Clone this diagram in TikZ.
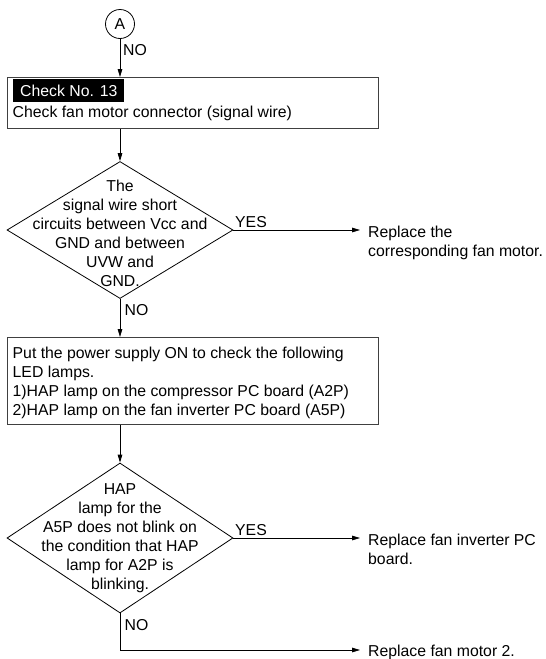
\documentclass[tikz,border=0pt]{standalone}
\usepackage{fontspec}
\setmainfont{Liberation Sans}
\usetikzlibrary{shapes.geometric,arrows.meta}
\begin{document}
\begin{tikzpicture}[x=1pt,y=-1pt,
  every node/.style={font=\fontsize{15.8}{19}\selectfont},
  conn/.style={line width=0.8pt,draw=black},
  arr/.style={conn,-{Triangle[length=8pt,width=4.6pt]}},
  box/.style={draw=black!75,line width=1.1pt,anchor=north west,inner sep=0pt},
  dia/.style={diamond,draw=black,line width=0.8pt,inner sep=0pt},
  txt/.style={inner sep=0pt,align=left,anchor=north west},
  ctxt/.style={inner sep=0pt,align=center,anchor=north},
  lbl/.style={inner sep=0pt,anchor=base west}]
\useasboundingbox (0,0) rectangle (546,659);
\fill[white] (0,0) rectangle (546,659);

% start connector
\node[circle,draw,line width=0.8pt,minimum size=29pt,inner sep=0pt] (A) at (120,24) {A};
\node[lbl] (no0) at (123,55) {NO};

% check box
\node[box,minimum width=371pt,minimum height=51pt] (b1) at (7,77) {};
\node[fill=black,text=white,anchor=north west,inner xsep=7pt,inner ysep=0pt,
      minimum height=23pt,text height=11.3pt,text depth=0pt] (lab) at (13,79) {Check No. 13};
\node[lbl] (t1) at (12.5,117) {Check fan motor connector (signal wire)};

% decision 1
\node[dia,minimum width=226pt,minimum height=137pt] (d1) at (120,230) {};
\node[ctxt] (d1t) at (120,179.5) {The\\signal wire short\\circuits between Vcc and\\GND and between\\UVW and\\GND.};
\node[lbl] (yes1) at (235,227) {YES};
\node[txt] (r1) at (368,225.7) {Replace the\\corresponding fan motor.};
\node[lbl] (no1) at (124.5,315) {NO};

% action box
\node[box,minimum width=371pt,minimum height=87pt] (b2) at (7,337) {};
\node[txt] (b2t) at (12.5,346.7) {Put the power supply ON to check the following\\LED lamps.\\1)HAP lamp on the compressor PC board (A2P)\\2)HAP lamp on the fan inverter PC board (A5P)};

% decision 2
\node[dia,minimum width=226pt,minimum height=150pt] (d2) at (120,538) {};
\node[ctxt] (d2t) at (120,483.2) {HAP\\lamp for the\\A5P does not blink on\\the condition that HAP\\lamp for A2P is\\blinking.};
\node[lbl] (yes2) at (235,535) {YES};
\node[txt] (r2) at (368,533.7) {Replace fan inverter PC\\board.};
\node[lbl] (no2) at (124.5,630) {NO};
\node[lbl] (r3) at (368,656.5) {Replace fan motor 2.};
\coordinate (c3) at (120,650);

% connectors
\draw[arr] (A.south) -- (A.south |- b1.north);
\draw[arr] (b1.south -| d1.north) -- (d1.north);
\draw[arr] (d1.south) -- (d1.south |- b2.north);
\draw[arr] (b2.south -| d2.north) -- (d2.north);
\draw[arr] (d1.east) -- ([xshift=-8pt]d1.east -| r1.west);
\draw[arr] (d2.east) -- ([xshift=-8pt]d2.east -| r2.west);
\draw[arr] (d2.south) |- ([xshift=-8pt]c3 -| r3.west);
\end{tikzpicture}
\end{document}
